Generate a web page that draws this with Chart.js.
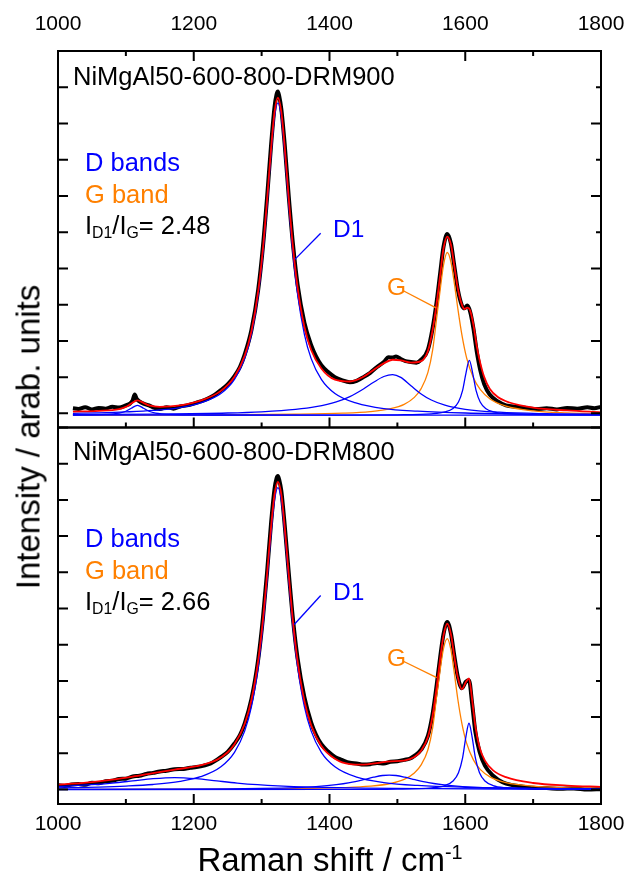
<!DOCTYPE html>
<html><head><meta charset="utf-8">
<script src="https://cdn.jsdelivr.net/npm/chart.js@4.4.1/dist/chart.umd.min.js"></script>
<style>
html,body{margin:0;padding:0;background:#fff;}
#wrap{position:relative;width:627px;height:879px;overflow:hidden;background:#fff;font-family:"Liberation Sans",Arial,sans-serif;color:#000;}
canvas{position:absolute;left:0;}
.t{position:absolute;white-space:nowrap;line-height:1;}
.sub{font-size:0.62em;position:relative;top:0.28em;}
.sup{font-size:0.6em;position:relative;top:-0.62em;}
</style></head><body>
<div id="wrap">
<canvas id="cTop" width="627" height="440" style="top:0"></canvas>
<canvas id="cBot" width="627" height="464" style="top:415px"></canvas>

<div class="t" style="left:73px;top:64px;font-size:25.5px">NiMgAl50-600-800-DRM900</div>
<div class="t" style="left:85px;top:150px;font-size:25.5px;color:#0000ff">D bands</div>
<div class="t" style="left:85px;top:181.5px;font-size:25.5px;color:#ff8000">G band</div>
<div class="t" style="left:85px;top:212.5px;font-size:25.5px">I<span class="sub">D1</span>/I<span class="sub">G</span>= 2.48</div>
<div class="t" style="left:333px;top:217px;font-size:24.5px;color:#0000ff">D1</div>
<div class="t" style="left:387px;top:274.5px;font-size:24.5px;color:#ff8000">G</div>

<div class="t" style="left:73px;top:438.5px;font-size:25.5px">NiMgAl50-600-800-DRM800</div>
<div class="t" style="left:85px;top:526px;font-size:25.5px;color:#0000ff">D bands</div>
<div class="t" style="left:85px;top:557.5px;font-size:25.5px;color:#ff8000">G band</div>
<div class="t" style="left:85px;top:588.5px;font-size:25.5px">I<span class="sub">D1</span>/I<span class="sub">G</span>= 2.66</div>
<div class="t" style="left:333px;top:579.5px;font-size:24.5px;color:#0000ff">D1</div>
<div class="t" style="left:387px;top:646px;font-size:24.5px;color:#ff8000">G</div>

<div class="t" style="left:28px;top:437px;font-size:33px;transform:translate(-50%,-50%) rotate(-90deg);">Intensity / arab. units</div>
<div class="t" style="left:330px;top:859px;font-size:33px;transform:translate(-50%,-50%);">Raman shift / cm<span class="sup">-1</span></div>
</div>
<script>
// ---------- axis ticks ----------
const xTickValues = [1000, 1200, 1400, 1600, 1800];
const xMinorTickValues = [1000, 1100, 1200, 1300, 1400, 1500, 1600, 1700, 1800];
const yTickValues = [0, 1, 2, 3, 4, 5, 6, 7, 8, 9, 10];

// ---------- top panel: NiMgAl50-600-800-DRM900 ----------
const topMeasuredX = [1022,1030,1040,1050,1060,1070,1080,1090,1100,1106,1110,1113,1116,1120,1126,1134,1142,1150,1160,1170,1180,1190,1200,1210,1220,1230,1240,1250,1260,1268,1275,1285,1295,1302,1308,1314,1319,1322,1324,1326,1329,1334,1340,1346,1353,1363,1373,1380,1388,1398,1408,1418,1430,1440,1450,1460,1470,1480,1487,1493,1498,1505,1512,1520,1528,1535,1545,1552,1558,1563,1568,1573.5,1579,1584,1589,1595,1599,1603,1607,1612,1617,1622,1628,1636,1648,1660,1675,1690,1705,1720,1735,1750,1765,1780,1790,1800];
const topMeasuredY = [0.14,0.12,0.17,0.11,0.15,0.13,0.18,0.16,0.22,0.27,0.36,0.52,0.40,0.33,0.27,0.22,0.15,0.12,0.17,0.13,0.19,0.22,0.27,0.33,0.40,0.50,0.64,0.80,1.03,1.28,1.62,2.30,3.42,4.62,5.95,7.42,8.45,8.80,8.88,8.75,8.40,7.42,5.98,4.70,3.55,2.50,1.88,1.58,1.33,1.14,1.00,0.92,0.86,0.90,1.00,1.12,1.28,1.42,1.55,1.54,1.57,1.50,1.44,1.42,1.40,1.48,1.76,2.36,3.10,3.86,4.60,4.95,4.68,4.05,3.42,2.98,2.90,2.98,2.82,2.35,1.70,1.20,0.80,0.52,0.33,0.22,0.18,0.15,0.12,0.14,0.11,0.15,0.13,0.17,0.14,0.18];
const topFitX = [1022,1060,1090,1100,1108,1117,1126,1134,1150,1180,1210,1240,1260,1275,1285,1295,1302,1308,1314,1319,1324,1329,1334,1340,1346,1353,1363,1373,1388,1408,1430,1450,1465,1480,1493,1505,1520,1535,1545,1552,1558,1563,1568,1573.5,1579,1584,1589,1595,1599,1603,1607,1612,1617,1622,1628,1636,1648,1665,1700,1750,1800];
const topFitY = [0.05,0.07,0.12,0.18,0.27,0.36,0.29,0.22,0.18,0.22,0.35,0.62,1.01,1.59,2.27,3.38,4.56,5.88,7.32,8.31,8.71,8.32,7.35,5.92,4.62,3.47,2.39,1.75,1.24,0.93,0.88,1.01,1.20,1.38,1.48,1.46,1.40,1.44,1.72,2.30,3.05,3.80,4.55,4.88,4.65,4.05,3.45,3.00,2.88,2.92,2.85,2.45,1.85,1.40,1.00,0.68,0.45,0.30,0.16,0.08,0.03];
const topD1X = [1022,1060,1100,1140,1180,1210,1240,1260,1275,1285,1295,1302,1308,1314,1319,1324,1329,1334,1340,1346,1353,1363,1373,1388,1408,1440,1480,1530,1600,1700,1800];
const topD1Y = [0.00,0.015,0.04,0.08,0.16,0.29,0.55,0.94,1.51,2.18,3.28,4.45,5.76,7.20,8.18,8.57,8.18,7.20,5.76,4.45,3.28,2.18,1.51,0.94,0.55,0.28,0.13,0.06,0.01,-0.02,-0.03];
const topD3X = [1022,1150,1250,1300,1350,1380,1410,1430,1450,1465,1480,1493,1505,1520,1535,1550,1570,1600,1650,1720,1800];
const topD3Y = [-0.033,-0.019,0.010,0.043,0.108,0.184,0.317,0.464,0.673,0.858,1.017,1.07,0.993,0.763,0.536,0.368,0.226,0.112,0.032,-0.009,-0.027];
const topD2X = [1022,1400,1500,1550,1570,1582,1590,1596,1601,1606,1611,1616,1622,1630,1642,1660,1700,1800];
const topD2Y = [-0.05,-0.047,-0.039,-0.012,0.039,0.136,0.313,0.626,1.104,1.46,1.104,0.626,0.313,0.136,0.039,-0.009,-0.036,-0.047];
const topD4X = [1022,1070,1090,1100,1108,1117,1126,1134,1144,1165,1220,1350,1800];
const topD4Y = [-0.045,-0.028,0.007,0.059,0.141,0.22,0.141,0.059,0.007,-0.028,-0.045,-0.05,-0.05];
const topGX = [1022,1200,1350,1420,1460,1490,1510,1525,1535,1545,1552,1558,1563,1568,1573.5,1579,1584,1589,1595,1602,1612,1622,1637,1660,1700,1750,1800];
const topGY = [-0.046,-0.041,-0.024,0.004,0.048,0.129,0.25,0.441,0.682,1.13,1.75,2.65,3.40,4.10,4.44,4.17,3.58,2.90,2.17,1.53,0.98,0.66,0.39,0.20,0.07,0.013,-0.012];

// ---------- bottom panel: NiMgAl50-600-800-DRM800 ----------
const botMeasuredX = [1000,1010,1020,1030,1040,1050,1060,1070,1080,1090,1100,1110,1120,1130,1140,1150,1160,1172,1185,1195,1204,1215,1225,1234,1242,1250,1260,1268,1275,1285,1295,1302,1308,1314,1319,1322,1324,1326,1329,1334,1340,1346,1353,1363,1373,1380,1388,1398,1408,1418,1430,1440,1450,1460,1470,1480,1490,1500,1510,1518,1525,1535,1545,1552,1558,1563,1568,1573.5,1579,1584,1589,1595,1601,1605.5,1610,1615,1621,1629,1641,1655,1670,1685,1700,1720,1740,1760,1780,1800];
const botMeasuredY = [0.12,0.10,0.14,0.15,0.13,0.19,0.17,0.23,0.24,0.29,0.30,0.36,0.38,0.43,0.46,0.50,0.52,0.56,0.57,0.60,0.62,0.66,0.72,0.82,0.92,1.04,1.27,1.50,1.82,2.50,3.60,4.75,6.00,7.38,8.30,8.60,8.66,8.55,8.25,7.30,5.98,4.74,3.62,2.55,1.85,1.52,1.25,1.05,0.90,0.82,0.74,0.72,0.69,0.70,0.73,0.72,0.77,0.78,0.82,0.85,0.93,1.10,1.48,2.10,2.90,3.65,4.30,4.63,4.30,3.68,3.12,2.80,2.98,3.02,2.40,1.58,1.05,0.66,0.38,0.20,0.12,0.08,0.05,0.04,0.02,0.03,0.00,0.01];
const botFitX = [1000,1020,1050,1080,1110,1140,1172,1204,1234,1250,1260,1275,1285,1295,1302,1308,1314,1319,1324,1329,1334,1340,1346,1353,1363,1373,1388,1408,1430,1450,1470,1490,1510,1525,1535,1545,1552,1558,1563,1568,1573.5,1579,1584,1589,1595,1601,1605.5,1610,1615,1621,1629,1641,1660,1700,1750,1800];
const botFitY = [0.136,0.161,0.207,0.271,0.356,0.454,0.552,0.643,0.82,1.03,1.248,1.81,2.48,3.57,4.70,5.94,7.27,8.15,8.50,8.15,7.25,5.93,4.68,3.54,2.45,1.775,1.205,0.85,0.70,0.685,0.731,0.779,0.80,0.90,1.07,1.45,2.05,2.85,3.60,4.25,4.58,4.28,3.66,3.10,2.77,2.97,3.07,2.50,1.73,1.17,0.80,0.53,0.34,0.18,0.11,0.075];
const botD1X = [1000,1020,1060,1100,1140,1180,1210,1240,1260,1275,1285,1295,1302,1308,1314,1319,1324,1329,1334,1340,1346,1353,1363,1373,1388,1408,1440,1480,1530,1600,1700,1800];
const botD1Y = [0.046,0.052,0.068,0.095,0.139,0.225,0.354,0.629,1.028,1.613,2.291,3.39,4.53,5.775,7.10,7.99,8.34,7.99,7.10,5.775,4.53,3.39,2.291,1.613,1.028,0.629,0.342,0.193,0.112,0.063,0.034,0.021];
const botD4X = [1000,1020,1050,1080,1110,1140,1172,1204,1234,1264,1294,1324,1372,1450,1550,1650,1800];
const botD4Y = [0.083,0.10,0.133,0.179,0.238,0.299,0.33,0.299,0.238,0.179,0.133,0.10,0.066,0.038,0.022,0.014,0.008];
const botD3X = [1000,1150,1250,1300,1350,1380,1410,1430,1450,1465,1478,1488,1498,1511,1526,1546,1566,1596,1626,1676,1726,1800];
const botD3Y = [0.004,0.010,0.020,0.032,0.055,0.082,0.133,0.19,0.271,0.34,0.387,0.40,0.387,0.34,0.271,0.19,0.133,0.082,0.055,0.032,0.020,0.012];
const botD2X = [1000,1400,1500,1550,1570,1582,1590,1596,1601,1605.5,1610,1615,1621,1629,1641,1660,1700,1800];
const botD2Y = [0.0,0.004,0.013,0.047,0.110,0.234,0.461,0.866,1.464,1.83,1.464,0.866,0.461,0.234,0.110,0.049,0.017,0.004];
const botGX = [1000,1200,1350,1420,1460,1490,1510,1525,1535,1545,1552,1558,1563,1568,1573.5,1579,1584,1589,1595,1602,1612,1622,1637,1660,1700,1750,1800];
const botGY = [0.0035,0.009,0.024,0.051,0.091,0.166,0.279,0.456,0.68,1.10,1.70,2.60,3.30,3.90,4.17,3.85,3.20,2.50,1.83,1.28,0.82,0.555,0.343,0.192,0.092,0.048,0.029];

// ---------- annotation leader lines (data coordinates) ----------
const BLUE = '#0000ff', ORANGE = '#ff8000', RED = '#ff0000', BLACK = '#000000';
const topLeaders = [
  {from: [1349, 4.25], to: [1387, 4.97], color: BLUE},
  {from: [1508, 3.39], to: [1557, 2.91], color: ORANGE}
];
const botLeaders = [
  {from: [1348, 4.56], to: [1387, 5.36], color: BLUE},
  {from: [1508, 3.55], to: [1558, 3.09], color: ORANGE}
];

Chart.defaults.font.family = '"Liberation Sans", Arial, sans-serif';
Chart.defaults.color = '#000';

function pts(xs, ys) { return xs.map((x, i) => ({x: x, y: ys[i]})); }
function ds(xs, ys, color, width, order) {
  return {data: pts(xs, ys), borderColor: color, borderWidth: width, order: order,
          pointRadius: 0, fill: false, cubicInterpolationMode: 'monotone'};
}

function makeFrame(opts) {
  return {
    id: 'frame',
    afterDatasetsDraw(chart) {
      const ctx = chart.ctx, a = chart.chartArea;
      const xs = chart.scales.x, ys = chart.scales.y;
      ctx.save();
      ctx.lineWidth = 1.3;
      opts.leaders.forEach(l => {
        ctx.strokeStyle = l.color;
        ctx.beginPath();
        ctx.moveTo(xs.getPixelForValue(l.from[0]), ys.getPixelForValue(l.from[1]));
        ctx.lineTo(xs.getPixelForValue(l.to[0]), ys.getPixelForValue(l.to[1]));
        ctx.stroke();
      });
      ctx.strokeStyle = BLACK;
      ctx.lineWidth = 2;
      ctx.beginPath();
      xMinorTickValues.forEach(v => {
        const px = xs.getPixelForValue(v);
        const len = xTickValues.includes(v) ? 10 : 5;
        if (opts.topTicks) { ctx.moveTo(px, a.top); ctx.lineTo(px, a.top + len); }
        if (opts.bottomTicks) { ctx.moveTo(px, a.bottom); ctx.lineTo(px, a.bottom - len); }
      });
      yTickValues.forEach(v => {
        const py = ys.getPixelForValue(v);
        ctx.moveTo(a.left, py); ctx.lineTo(a.left + 10, py);
        const rl = (v % 2 === 0) ? 10 : 5;
        ctx.moveTo(a.right, py); ctx.lineTo(a.right - rl, py);
      });
      ctx.stroke();
      ctx.strokeRect(a.left, a.top, a.right - a.left, a.bottom - a.top);
      ctx.restore();
    }
  };
}

function makeChart(id, datasets, xPos, axisHeight, padding, yMin, leaders, topTicks, tickPad) {
  return new Chart(document.getElementById(id), {
    type: 'line',
    data: {datasets: datasets},
    options: {
      responsive: false, animation: false, devicePixelRatio: 1,
      layout: {padding: padding},
      plugins: {legend: {display: false}, tooltip: {enabled: false}},
      scales: {
        x: {
          type: 'linear', position: xPos, min: 1000, max: 1800,
          afterBuildTicks: s => { s.ticks = xTickValues.map(v => ({value: v})); },
          afterFit: s => {
            s.height = axisHeight;
            s.paddingLeft = 0; s.paddingRight = 0; s.paddingTop = 0; s.paddingBottom = 0;
          },
          grid: {display: false, drawTicks: false}, border: {display: false},
          ticks: {padding: tickPad, color: '#000', maxRotation: 0, autoSkip: false,
                  font: {size: 21}, callback: v => String(v)}
        },
        y: {type: 'linear', display: false, min: yMin, max: 10}
      }
    },
    plugins: [makeFrame({leaders: leaders, topTicks: topTicks, bottomTicks: true})]
  });
}

makeChart('cTop', [
  ds(topFitX, topFitY, RED, 1.8, 0),
  ds(topD1X, topD1Y, BLUE, 1.3, 1),
  ds(topD3X, topD3Y, BLUE, 1.3, 1),
  ds(topD2X, topD2Y, BLUE, 1.3, 1),
  ds(topD4X, topD4Y, BLUE, 1.3, 1),
  ds(topGX, topGY, ORANGE, 1.3, 1),
  ds(topMeasuredX, topMeasuredY, BLACK, 4, 5)
], 'top', 51, {left: 58, right: 26, top: 0, bottom: 12.5}, -0.39, topLeaders, true, 14);

makeChart('cBot', [
  ds(botFitX, botFitY, RED, 1.8, 0),
  ds(botD1X, botD1Y, BLUE, 1.3, 1),
  ds(botD3X, botD3Y, BLUE, 1.3, 1),
  ds(botD4X, botD4Y, BLUE, 1.3, 1),
  ds(botD2X, botD2Y, BLUE, 1.3, 1),
  ds(botGX, botGY, ORANGE, 1.3, 1),
  ds(botMeasuredX, botMeasuredY, BLACK, 4, 5)
], 'bottom', 75, {left: 58, right: 26, top: 12.5, bottom: 0}, -0.4, botLeaders, false, 7.5);
</script>
</body></html>
